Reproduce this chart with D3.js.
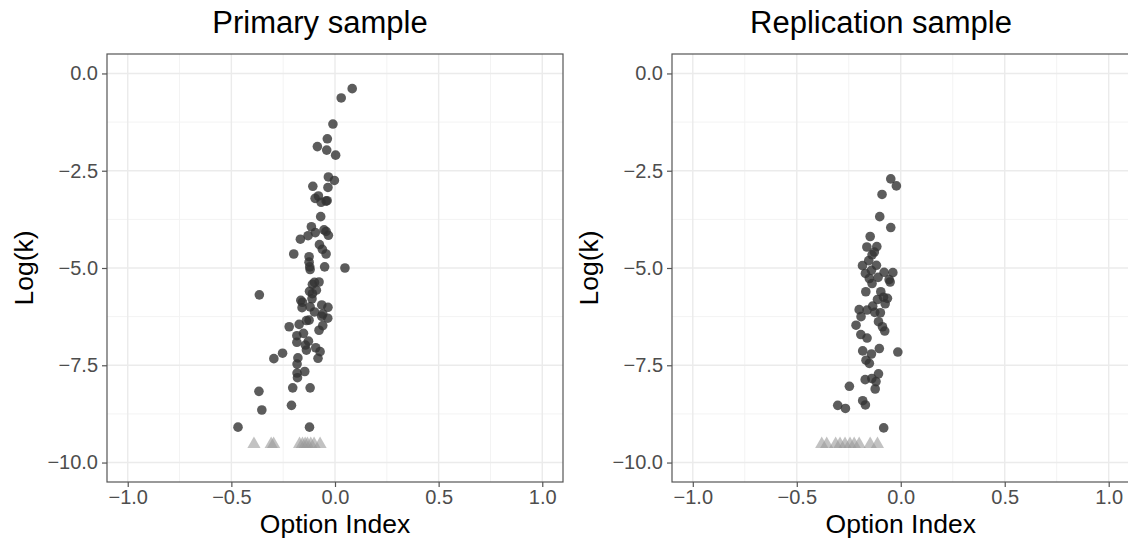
<!DOCTYPE html>
<html lang="en">
<head>
<meta charset="UTF-8">
<title>Option Index vs Log(k)</title>
<script src="https://d3js.org/d3.v7.min.js"></script>
<style>
html,body{margin:0;padding:0;background:#fff}
svg{display:block;font-family:"Liberation Sans",Arial,Helvetica,sans-serif}
.tick-label{fill:#4d4d4d;font-size:20px}
.axis-title{fill:#000;font-size:26.5px}
.panel-title{fill:#000;font-size:31px}
</style>
</head>
<body>
<svg id="chart" width="1128" height="540"></svg>
<script>
// ── Data ──
var panelTitles = ['Primary sample', 'Replication sample'];
var xTicks = [-1.0, -0.5, 0.0, 0.5, 1.0];
var yTicks = [0.0, -2.5, -5.0, -7.5, -10.0];

// primary sample: option index / log(k)
var primaryX = [0.083, 0.030, -0.010, -0.037, -0.085, -0.040, 0.003, -0.032, -0.003, -0.107,
  -0.034, -0.080, -0.096, -0.067, -0.038, -0.043, -0.069, -0.114, -0.095, -0.053,
  -0.043, -0.032, -0.130, -0.167, -0.075, -0.061, -0.043, -0.199, -0.125, -0.125,
  -0.122, -0.050, 0.048, -0.120, -0.099, -0.077, -0.109, -0.123, -0.090, -0.109,
  -0.365, -0.165, -0.157, -0.111, -0.064, -0.034, -0.159, -0.120, -0.099, -0.059,
  -0.035, -0.064, -0.138, -0.125, -0.173, -0.059, -0.221, -0.077, -0.152, -0.184,
  -0.184, -0.128, -0.143, -0.093, -0.138, -0.072, -0.253, -0.295, -0.179, -0.082,
  -0.183, -0.183, -0.146, -0.181, -0.367, -0.204, -0.120, -0.353, -0.210, -0.468,
  -0.123];
var primaryY = [-0.39, -0.63, -1.30, -1.68, -1.88, -1.97, -2.10, -2.66, -2.75, -2.90,
  -2.93, -3.15, -3.21, -3.31, -3.27, -3.28, -3.68, -3.94, -4.09, -4.02,
  -4.06, -4.16, -4.17, -4.26, -4.40, -4.52, -4.64, -4.64, -4.71, -4.85,
  -4.97, -4.97, -5.00, -5.04, -5.37, -5.36, -5.42, -5.60, -5.57, -5.66,
  -5.69, -5.83, -5.88, -5.79, -5.95, -6.01, -6.02, -6.00, -6.13, -6.18,
  -6.29, -6.24, -6.35, -6.34, -6.45, -6.48, -6.51, -6.60, -6.68, -6.74,
  -6.91, -6.88, -6.98, -7.05, -7.11, -7.15, -7.19, -7.33, -7.31, -7.32,
  -7.47, -7.70, -7.66, -7.82, -8.17, -8.08, -8.08, -8.65, -8.53, -9.09,
  -9.09];
// primary sample: censored cases drawn as triangles at the floor
var primaryCensX = [-0.391, -0.308, -0.296, -0.171, -0.157, -0.144, -0.133, -0.117, -0.101, -0.072];
var primaryCensY = [-9.5, -9.5, -9.5, -9.5, -9.5, -9.5, -9.5, -9.5, -9.5, -9.5];

// replication sample
var replicationX = [-0.048, -0.021, -0.090, -0.101, -0.048, -0.147, -0.163, -0.115, -0.127, -0.138,
  -0.154, -0.184, -0.117, -0.141, -0.170, -0.080, -0.038, -0.151, -0.109, -0.056,
  -0.051, -0.138, -0.168, -0.096, -0.083, -0.112, -0.064, -0.075, -0.135, -0.200,
  -0.162, -0.125, -0.098, -0.191, -0.107, -0.215, -0.088, -0.077, -0.192, -0.162,
  -0.103, -0.183, -0.141, -0.014, -0.167, -0.151, -0.107, -0.171, -0.139, -0.119,
  -0.123, -0.247, -0.183, -0.170, -0.303, -0.266, -0.082];
var replicationY = [-2.71, -2.89, -3.11, -3.68, -3.96, -4.19, -4.46, -4.45, -4.59, -4.66,
  -4.81, -4.94, -4.93, -5.06, -5.14, -5.11, -5.12, -5.27, -5.24, -5.30,
  -5.36, -5.40, -5.61, -5.61, -5.75, -5.81, -5.78, -5.92, -5.98, -6.07,
  -6.08, -6.14, -6.15, -6.25, -6.38, -6.47, -6.51, -6.62, -6.71, -6.80,
  -7.07, -7.13, -7.21, -7.16, -7.37, -7.45, -7.72, -7.87, -7.84, -7.92,
  -8.11, -8.04, -8.41, -8.52, -8.53, -8.61, -9.11];
var replicationCensX = [-0.380, -0.356, -0.313, -0.292, -0.268, -0.244, -0.224, -0.200, -0.147, -0.112];
var replicationCensY = [-9.5, -9.5, -9.5, -9.5, -9.5, -9.5, -9.5, -9.5, -9.5, -9.5];

// ── Layout ──
var svg = d3.select('#chart');
var PANEL_TOP = 54, PANEL_BOTTOM = 482;
var panels = [
  { title: panelTitles[0], left: 107, right: 563, titleX: 320, ylabX: 33,
    xs: primaryX, ys: primaryY, cx: primaryCensX, cy: primaryCensY },
  { title: panelTitles[1], left: 672, right: 1129.5, titleX: 881, ylabX: 598,
    xs: replicationX, ys: replicationY, cx: replicationCensX, cy: replicationCensY }
];

var defs = svg.append('defs');

panels.forEach(function(p, pi) {
  var x = d3.scaleLinear().domain([-1.1, 1.1]).range([p.left, p.right]);
  var y = d3.scaleLinear().domain([-10.5, 0.5]).range([PANEL_BOTTOM, PANEL_TOP]);
  var g = svg.append('g');

  defs.append('clipPath').attr('id', 'clip' + pi)
    .append('rect').attr('x', p.left).attr('y', PANEL_TOP)
    .attr('width', p.right - p.left).attr('height', PANEL_BOTTOM - PANEL_TOP);

  // grid: minor then major
  var xMinor = xTicks.slice(0, -1).map(function(t) { return t + 0.25; });
  var yMinor = yTicks.slice(0, -1).map(function(t) { return t - 1.25; });
  g.append('g').selectAll('line').data(xMinor).join('line')
    .attr('x1', x).attr('x2', x).attr('y1', PANEL_TOP).attr('y2', PANEL_BOTTOM)
    .attr('stroke', '#f3f3f3').attr('stroke-width', 1);
  g.append('g').selectAll('line').data(yMinor).join('line')
    .attr('y1', y).attr('y2', y).attr('x1', p.left).attr('x2', p.right)
    .attr('stroke', '#f3f3f3').attr('stroke-width', 1);
  g.append('g').selectAll('line').data(xTicks).join('line')
    .attr('x1', x).attr('x2', x).attr('y1', PANEL_TOP).attr('y2', PANEL_BOTTOM)
    .attr('stroke', '#ebebeb').attr('stroke-width', 1.4);
  g.append('g').selectAll('line').data(yTicks).join('line')
    .attr('y1', y).attr('y2', y).attr('x1', p.left).attr('x2', p.right)
    .attr('stroke', '#ebebeb').attr('stroke-width', 1.4);

  // censored triangles
  var tri = d3.symbol().type(d3.symbolTriangle).size(75);
  g.append('g').attr('clip-path', 'url(#clip' + pi + ')')
    .selectAll('path').data(p.cx).join('path')
    .attr('d', tri)
    .attr('transform', function(d, i) { return 'translate(' + x(d) + ',' + (y(p.cy[i]) + 1) + ')'; })
    .attr('fill', '#999').attr('fill-opacity', 0.6);

  // points
  g.append('g').attr('clip-path', 'url(#clip' + pi + ')')
    .selectAll('circle').data(p.xs).join('circle')
    .attr('cx', x).attr('cy', function(d, i) { return y(p.ys[i]); })
    .attr('r', 4.8)
    .attr('fill', '#333').attr('fill-opacity', 0.8);

  // border
  g.append('rect').attr('x', p.left).attr('y', PANEL_TOP)
    .attr('width', p.right - p.left).attr('height', PANEL_BOTTOM - PANEL_TOP)
    .attr('fill', 'none').attr('stroke', '#555').attr('stroke-width', 1.2);

  // axes
  var xAxis = g.append('g').attr('transform', 'translate(0,' + PANEL_BOTTOM + ')')
    .call(d3.axisBottom(x).tickValues(xTicks).tickFormat(d3.format('.1f')).tickSize(5).tickPadding(3));
  var yAxis = g.append('g').attr('transform', 'translate(' + p.left + ',0)')
    .call(d3.axisLeft(y).tickValues(yTicks).tickFormat(d3.format('.1f')).tickSize(5).tickPadding(4));
  [xAxis, yAxis].forEach(function(a) {
    a.select('.domain').remove();
    a.selectAll('.tick line').attr('stroke', '#555').attr('stroke-width', 1.2);
    a.selectAll('.tick text').attr('class', 'tick-label').attr('fill', null).attr('font-size', null);
    a.attr('font-family', null).attr('font-size', null);
  });

  // titles
  svg.append('text').attr('class', 'panel-title')
    .attr('x', p.titleX).attr('y', 33).attr('text-anchor', 'middle').text(p.title);
  svg.append('text').attr('class', 'axis-title')
    .attr('x', (p.left + Math.min(p.right, 1129.5)) / 2).attr('y', 533)
    .attr('text-anchor', 'middle').text('Option Index');
  svg.append('text').attr('class', 'axis-title')
    .attr('transform', 'translate(' + p.ylabX + ',' + (PANEL_TOP + PANEL_BOTTOM) / 2 + ') rotate(-90)')
    .attr('text-anchor', 'middle').text('Log(k)');
});
</script>
</body>
</html>
